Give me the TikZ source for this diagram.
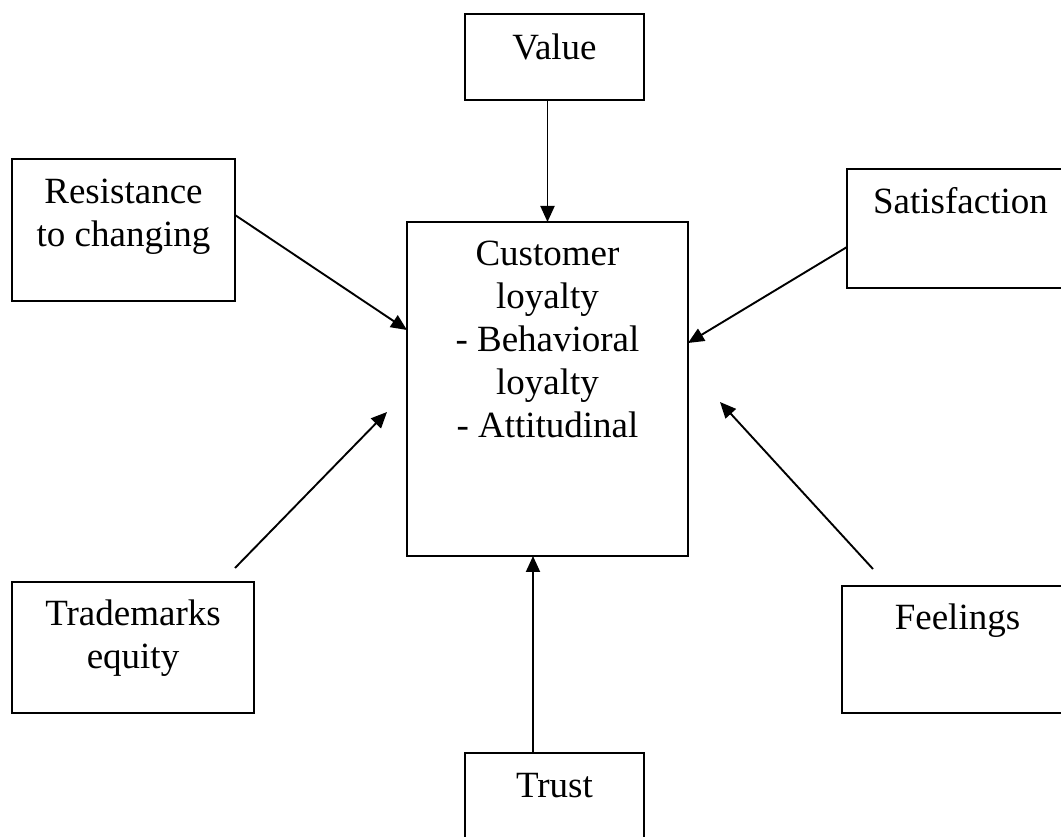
\documentclass[tikz,border=0pt]{standalone}
\usepackage{fontspec}
\setmainfont{Liberation Serif}
\usetikzlibrary{arrows.meta}
\begin{document}
\begin{tikzpicture}[x=1pt,y=1pt,
  box/.style={draw=black, line width=1.4pt, rectangle, inner sep=0pt, outer sep=0pt},
  txt/.style={align=center, inner sep=0pt, anchor=base, font=\fontsize{37}{43}\selectfont},
  arr/.style={line width=1.9pt, -{Triangle[length=16pt,width=14pt]}}]
\clip (0,0) rectangle (1061,836);
\fill[white] (0,0) rectangle (1061,836);
% boxes
\node[box, minimum width=179pt, minimum height=86pt]  (val)   at (554.5,779) {};
\node[box, minimum width=223pt, minimum height=142pt] (res)   at (123.5,606) {};
\node[box, minimum width=227pt, minimum height=119pt] (sat)   at (960.5,607.5) {};
\node[box, minimum width=281pt, minimum height=334pt] (cust)  at (547.5,447) {};
\node[box, minimum width=242pt, minimum height=131pt] (trade) at (133,188.5) {};
\node[box, minimum width=231pt, minimum height=127pt] (feel)  at (957.5,186.5) {};
\node[box, minimum width=179pt, minimum height=86pt]  (trust) at (554.5,40) {};
% texts (anchor=base is the baseline of the last line)
\node[txt] (valt)   at ([yshift=-46pt]val.north)   {Value};
\node[txt] (rest)   at ([yshift=-88pt]res.north)   {Resistance\\to changing};
\node[txt] (satt)   at ([yshift=-45pt]sat.north)   {Satisfaction};
\node[txt] (custt)  at ([yshift=-216pt]cust.north) {Customer\\loyalty\\- Behavioral\\loyalty\\- Attitudinal};
\node[txt] (tradet) at ([yshift=-87pt]trade.north) {Trademarks\\equity};
\node[txt] (feelt)  at ([yshift=-44pt]feel.north)  {Feelings};
\node[txt] (trustt) at ([yshift=-45pt]trust.north) {Trust};
% free ends
\coordinate (tA) at (235,268);
\coordinate (tB) at (387,424);
\coordinate (fA) at (873,267);
\coordinate (fB) at (720,434);
% connectors
\draw[arr] (val.south -| cust.north) -- (cust.north);
\draw[arr] ([yshift=15pt]res.east) -- ([yshift=59pt]cust.west);
\draw[arr] ([yshift=-18.5pt]sat.west) -- ([yshift=46pt]cust.east);
\draw[arr] (tA) -- (tB);
\draw[arr] (fA) -- (fB);
\draw[arr] ([xshift=-21.5pt]trust.north) -- ([xshift=-14.5pt]cust.south);
\end{tikzpicture}
\end{document}
